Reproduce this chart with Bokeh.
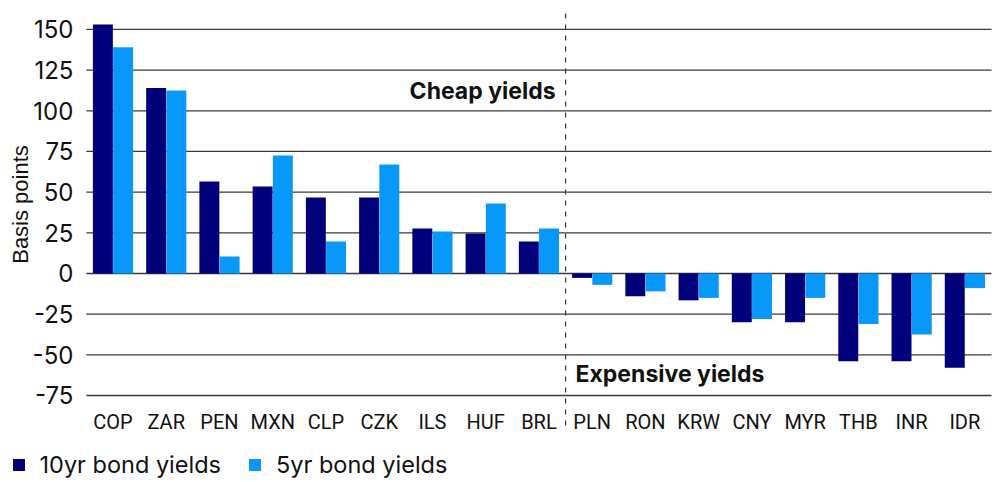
import numpy as np
from bokeh.plotting import figure
from bokeh.models import (ColumnDataSource, Range1d, FixedTicker, Label, Legend, LegendItem)
from bokeh.embed import file_html
from bokeh.resources import INLINE

currencies = ["COP", "ZAR", "PEN", "MXN", "CLP", "CZK", "ILS", "HUF", "BRL",
              "PLN", "RON", "KRW", "CNY", "MYR", "THB", "INR", "IDR"]
yield_10yr = [153, 114, 56.5, 53.5, 46.7, 46.7, 27.7, 24.6, 19.7,
              -2.7, -14, -16.5, -30, -30, -54, -54, -58]
yield_5yr = [139, 112.5, 10.5, 72.5, 19.7, 67, 25.8, 43, 27.7,
             -7, -11, -15, -28, -15, -31, -37.5, -9]
y_ticks = [-75, -50, -25, 0, 25, 50, 75, 100, 125, 150]

NAVY = "#00007A"
LIGHT = "#0898FA"

n = len(currencies)
xc = np.arange(n) + 0.5
src = ColumnDataSource(dict(x10=xc - 0.19, x5=xc + 0.19, y10=yield_10yr, y5=yield_5yr))

W, H = 1000, 480
p = figure(x_range=Range1d(-1.613, 17.169), y_range=Range1d(-127.25, 167.8),
           width=W, height=H, output_backend="svg", toolbar_location=None,
           min_border_left=0, min_border_right=0, min_border_top=0, min_border_bottom=0)
p.outline_line_color = None
p.background_fill_color = "white"
p.xgrid.visible = False
p.ygrid.visible = False

# horizontal grid lines across the plotting area only
p.segment(x0=[0] * len(y_ticks), y0=y_ticks, x1=[n] * len(y_ticks), y1=y_ticks,
          line_color="#3a3a3a", line_width=1.3)

r10 = p.vbar(x="x10", top="y10", width=0.375, source=src, fill_color=NAVY, line_color=None)
r5 = p.vbar(x="x5", top="y5", width=0.375, source=src, fill_color=LIGHT, line_color=None)

# y axis
yax = p.yaxis[0]
yax.fixed_location = 0
yax.bounds = (-75, 160)
yax.ticker = FixedTicker(ticks=y_ticks)
yax.major_label_overrides = {t: str(t) for t in y_ticks}
yax.axis_line_color = None
yax.major_tick_line_color = None
yax.minor_tick_line_color = None
yax.major_tick_out = 0
yax.major_tick_in = 0
yax.minor_tick_out = 0
yax.major_label_standoff = 13
yax.major_label_text_font = "Inter"
yax.major_label_text_font_size = "24px"
yax.major_label_text_color = "#111111"
yax.axis_label = "Basis points"
yax.axis_label_text_font = "Liberation Sans"
yax.axis_label_text_font_style = "normal"
yax.axis_label_text_font_size = "22px"
yax.axis_label_text_color = "#111111"
yax.axis_label_standoff = -3

# x axis with currency labels
xax = p.xaxis[0]
xax.fixed_location = -81
xax.ticker = FixedTicker(ticks=list(xc))
xax.major_label_overrides = {float(v): c for v, c in zip(xc, currencies)}
xax.axis_line_color = None
xax.major_tick_line_color = None
xax.minor_tick_line_color = None
xax.major_tick_out = 0
xax.major_tick_in = 0
xax.minor_tick_out = 0
xax.major_label_standoff = 5
xax.major_label_text_font = "Roboto"
xax.major_label_text_font_size = "20px"
xax.major_label_text_color = "#111111"

# divider between cheap and expensive
split = sum(1 for v in yield_10yr if v > 0)
p.segment(x0=[split], y0=[-93.4], x1=[split], y1=[162.9],
          line_color="#333333", line_width=1.2, line_dash="5 6")

p.add_layout(Label(x=split, y=111.9, x_offset=-10, text="Cheap yields",
                   text_font="Inter", text_font_style="bold", text_font_size="23px",
                   text_align="right", text_baseline="middle", text_color="#111111"))
p.add_layout(Label(x=split, y=-61.5, x_offset=10, text="Expensive yields",
                   text_font="Inter", text_font_style="bold", text_font_size="23px",
                   text_align="left", text_baseline="middle", text_color="#111111"))

legend = Legend(items=[LegendItem(label="10yr bond yields", renderers=[r10]),
                       LegendItem(label="5yr bond yields", renderers=[r5])],
                location=(10.5, 1), orientation="horizontal",
                glyph_width=15, glyph_height=15, label_standoff=14, spacing=26,
                padding=0, margin=0, border_line_color=None, background_fill_alpha=0,
                label_text_font="Inter", label_text_font_size="23.5px",
                label_text_color="#111111", label_height=20)
p.add_layout(legend, "center")

open("out.html", "w").write(file_html(p, INLINE))
